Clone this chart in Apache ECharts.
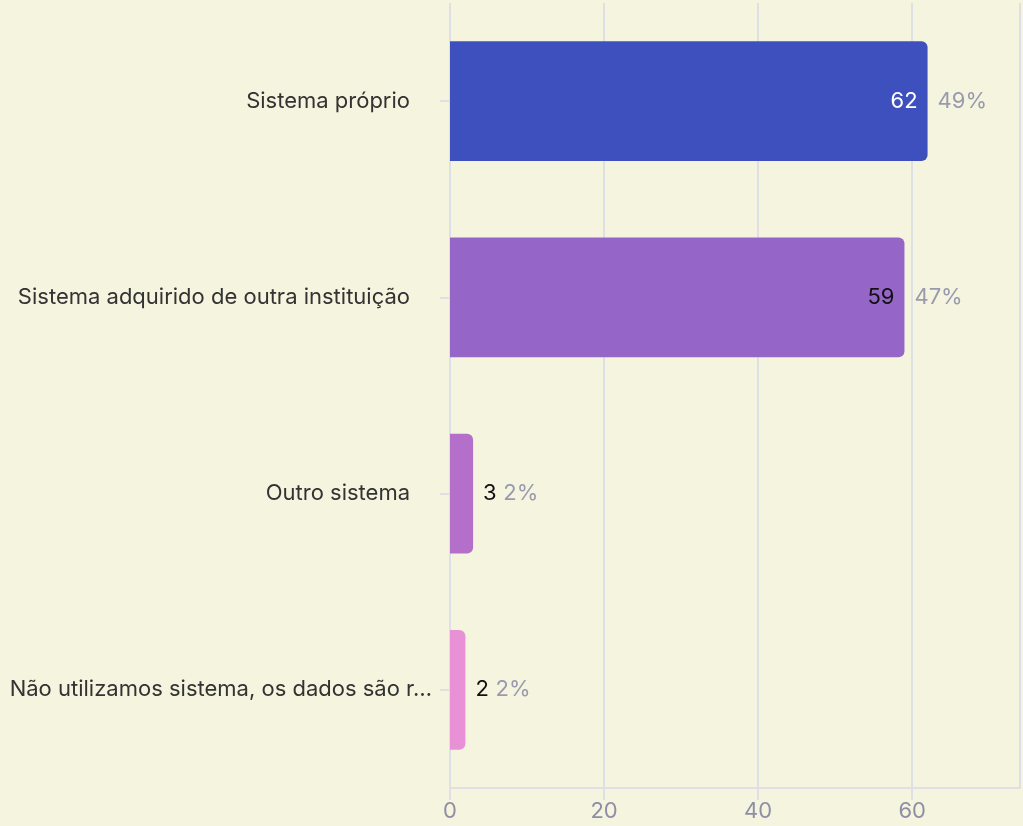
<!DOCTYPE html>
<html><head><meta charset="utf-8">
<script src="https://cdn.jsdelivr.net/npm/echarts@6/dist/echarts.min.js"></script>
<style>html,body{margin:0;padding:0;background:#f4f4df;}#c{width:1023px;height:826px;}</style>
</head><body><div id="c"></div>
<script>
const categories = ["Sistema próprio", "Sistema adquirido de outra instituição", "Outro sistema", "Não utilizamos sistema, os dados são r…"];
const values = [62, 59, 3, 2];
const percents = ["49%", "47%", "2%", "2%"];
const colors = ["#3e50be", "#9566c8", "#b46fcb", "#e891d6"];
const valueLabelColors = ["#ffffff", "#111111", "#111111", "#111111"];
const insideThreshold = 10;

const chart = echarts.init(document.getElementById('c'));
const font = "Inter, 'Noto Sans', sans-serif";
chart.setOption({
  backgroundColor: '#f4f4df',
  animation: false,
  grid: {left: 450, right: 3, top: 3, bottom: 38, containLabel: false, outerBoundsMode: 'none'},
  xAxis: {
    type: 'value', min: 0, max: 74, interval: 20,
    axisLine: {show: true, lineStyle: {color: '#dfe0e6', width: 2}},
    axisTick: {show: true, length: 12, lineStyle: {color: '#dfe0e6', width: 2}},
    splitLine: {show: true, lineStyle: {color: '#dfe0e6', width: 2}},
    axisLabel: {color: '#8e8ea6', fontSize: 22, fontFamily: font, margin: 12, showMaxLabel: false},
  },
  yAxis: {
    type: 'category', data: categories, inverse: true,
    axisLine: {show: false},
    axisTick: {show: true, length: 10, alignWithLabel: true, lineStyle: {color: '#dfe0e6', width: 2}},
    axisLabel: {color: '#333333', fontSize: 22, fontFamily: font, margin: 18,
      formatter: (v) => v.endsWith('…') ? '{b|' + v + '}' : '{a|' + v + '}',
      rich: {
        a: {color: '#333333', fontSize: 22, fontFamily: font, padding: [0, 22, 0, 0]},
        b: {color: '#333333', fontSize: 22, fontFamily: font}
      }
    },
  },
  series: [{
    type: 'bar', data: values.map((v, i) => ({
      value: v,
      itemStyle: {color: colors[i], borderRadius: [0, 6, 6, 0]},
      label: {show: v >= insideThreshold, position: 'insideRight', distance: 10,
        formatter: String(v), color: valueLabelColors[i], fontSize: 22, fontFamily: font}
    })),
    barWidth: '61%', barGap: '-100%'
  }, {
    type: 'bar', data: values.map((v, i) => ({
      value: v,
      itemStyle: {color: 'rgba(0,0,0,0)'},
      label: {show: true, position: 'right', distance: 10,
        formatter: v >= insideThreshold ? '{p|' + percents[i] + '}' : '{v|' + v + '}  {p|' + percents[i] + '}'}
    })),
    barWidth: '61%', barGap: '-100%', silent: true,
    label: {rich: {
      v: {color: '#111111', fontSize: 22, fontFamily: font},
      p: {color: '#9a9aae', fontSize: 22, fontFamily: font}
    }}
  }]
});
</script></body></html>
